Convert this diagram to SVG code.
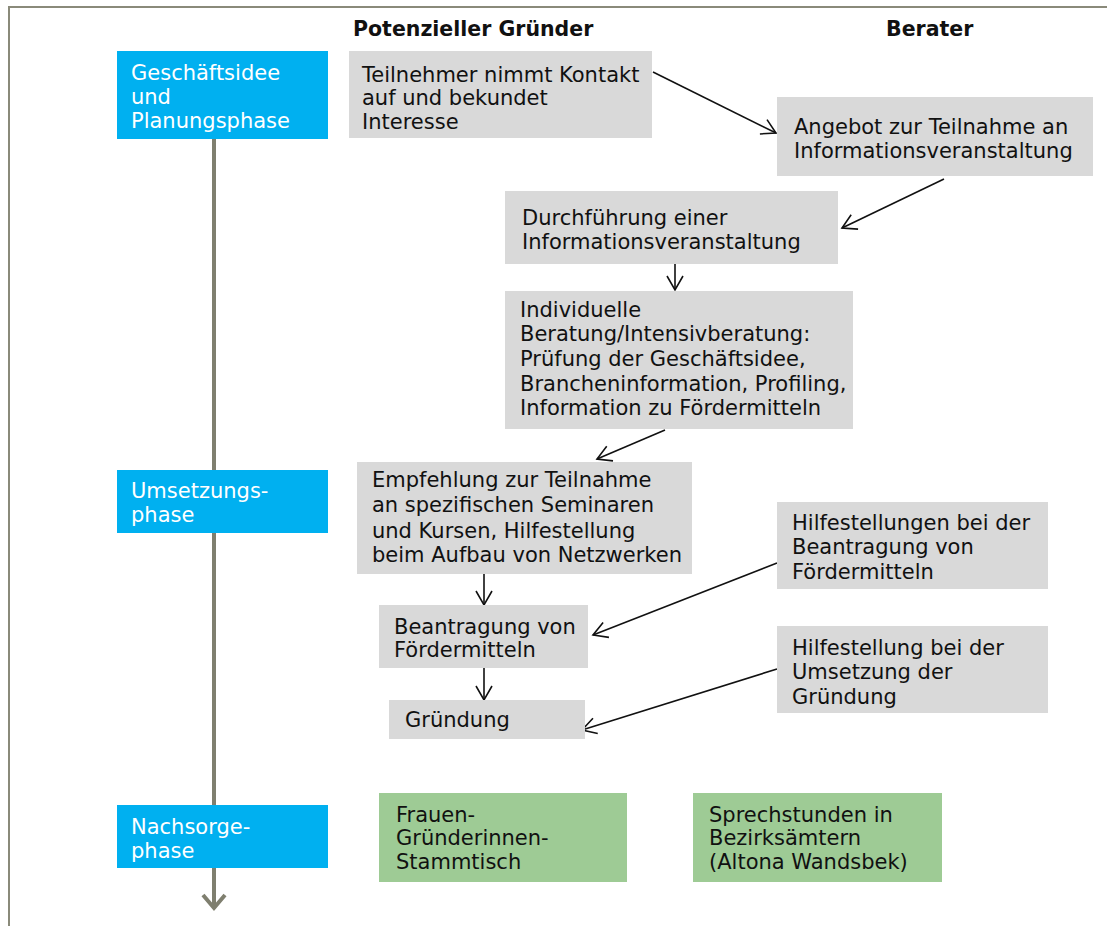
<svg xmlns="http://www.w3.org/2000/svg" width="1107" height="926" viewBox="0 0 1107 926">
<defs>
<style>
.frame{fill:none;stroke:#8a8a7a;stroke-width:2}
.phase{fill:#00b0f0}
.step{fill:#d9d9d9}
.post{fill:#9ecb95}
.pt{font-family:"DejaVu Sans",Verdana,sans-serif;font-size:21px;fill:#ffffff}
.t{font-family:"DejaVu Sans",Verdana,sans-serif;font-size:21px;fill:#111111}
.h{font-family:"DejaVu Sans",Verdana,sans-serif;font-size:20.5px;font-weight:bold;fill:#111111}
.c{fill:none;stroke:#111111;stroke-width:1.6}
.tl{fill:none;stroke:#7f7f6f;stroke-width:4}
</style>
<marker id="ah" markerWidth="18" markerHeight="18" refX="15" refY="9" orient="auto" markerUnits="userSpaceOnUse">
<path d="M1,1 L15,9 L1,17" fill="none" stroke="#111111" stroke-width="1.6"/>
</marker>
</defs>
<rect width="1107" height="926" fill="#ffffff"/>
<path class="frame" d="M9,926 V7 H1107"/>
<g id="headers">
<text class="h" x="353" y="36">Potenzieller Gründer</text>
<text class="h" x="886" y="36">Berater</text>
</g>
<g id="timeline">
<line class="tl" x1="214" y1="139" x2="214" y2="908"/>
<path class="tl" d="M203,895 L214,908 L225,895" stroke-linejoin="miter"/>
</g>
<g id="connectors">
<line class="c" x1="653" y1="72" x2="776" y2="133" marker-end="url(#ah)"/>
<line class="c" x1="944" y1="179" x2="842" y2="228" marker-end="url(#ah)"/>
<line class="c" x1="675" y1="264" x2="675" y2="290" marker-end="url(#ah)"/>
<line class="c" x1="665" y1="430" x2="597" y2="459" marker-end="url(#ah)"/>
<line class="c" x1="484" y1="574" x2="484" y2="605" marker-end="url(#ah)"/>
<line class="c" x1="777" y1="563" x2="593" y2="635" marker-end="url(#ah)"/>
<line class="c" x1="484" y1="668" x2="484" y2="700" marker-end="url(#ah)"/>
<line class="c" x1="777" y1="669" x2="582" y2="730" marker-end="url(#ah)"/>
</g>
<g id="phase1">
<rect class="phase" x="117" y="51" width="211" height="88"/>
<text class="pt" x="131" y="80">Geschäftsidee</text>
<text class="pt" x="131" y="104">und</text>
<text class="pt" x="131" y="128">Planungsphase</text>
</g>
<g id="phase2">
<rect class="phase" x="117" y="470" width="211" height="63"/>
<text class="pt" x="131" y="498">Umsetzungs-</text>
<text class="pt" x="131" y="522">phase</text>
</g>
<g id="phase3">
<rect class="phase" x="117" y="805" width="211" height="63"/>
<text class="pt" x="131" y="834">Nachsorge-</text>
<text class="pt" x="131" y="858">phase</text>
</g>
<g id="kontakt">
<rect class="step" x="349" y="51" width="303" height="87"/>
<text class="t" x="362" y="82">Teilnehmer nimmt Kontakt</text>
<text class="t" x="362" y="105">auf und bekundet</text>
<text class="t" x="362" y="129">Interesse</text>
</g>
<g id="angebot">
<rect class="step" x="777" y="97" width="316" height="79"/>
<text class="t" x="794" y="134">Angebot zur Teilnahme an</text>
<text class="t" x="794" y="158">Informationsveranstaltung</text>
</g>
<g id="durchfuehrung">
<rect class="step" x="505" y="191" width="333" height="73"/>
<text class="t" x="522" y="225">Durchführung einer</text>
<text class="t" x="522" y="249">Informationsveranstaltung</text>
</g>
<g id="beratung">
<rect class="step" x="505" y="291" width="348" height="138"/>
<text class="t" x="520" y="317">Individuelle</text>
<text class="t" x="520" y="341">Beratung/Intensivberatung:</text>
<text class="t" x="520" y="366">Prüfung der Geschäftsidee,</text>
<text class="t" x="520" y="391">Brancheninformation, Profiling,</text>
<text class="t" x="520" y="415">Information zu Fördermitteln</text>
</g>
<g id="empfehlung">
<rect class="step" x="357" y="462" width="335" height="112"/>
<text class="t" x="372" y="487">Empfehlung zur Teilnahme</text>
<text class="t" x="372" y="512">an spezifischen Seminaren</text>
<text class="t" x="372" y="538">und Kursen, Hilfestellung</text>
<text class="t" x="372" y="562">beim Aufbau von Netzwerken</text>
</g>
<g id="hilfe-antrag">
<rect class="step" x="777" y="502" width="271" height="87"/>
<text class="t" x="792" y="530">Hilfestellungen bei der</text>
<text class="t" x="792" y="554">Beantragung von</text>
<text class="t" x="792" y="579">Fördermitteln</text>
</g>
<g id="antrag">
<rect class="step" x="379" y="605" width="209" height="63"/>
<text class="t" x="394" y="634">Beantragung von</text>
<text class="t" x="394" y="657">Fördermitteln</text>
</g>
<g id="hilfe-umsetzung">
<rect class="step" x="777" y="626" width="271" height="87"/>
<text class="t" x="792" y="655">Hilfestellung bei der</text>
<text class="t" x="792" y="679">Umsetzung der</text>
<text class="t" x="792" y="704">Gründung</text>
</g>
<g id="gruendung">
<rect class="step" x="389" y="700" width="196" height="39"/>
<text class="t" x="405" y="727">Gründung</text>
</g>
<g id="stammtisch">
<rect class="post" x="379" y="793" width="248" height="89"/>
<text class="t" x="396" y="822">Frauen-</text>
<text class="t" x="396" y="845">Gründerinnen-</text>
<text class="t" x="396" y="869">Stammtisch</text>
</g>
<g id="sprechstunden">
<rect class="post" x="693" y="793" width="249" height="89"/>
<text class="t" x="709" y="822">Sprechstunden in</text>
<text class="t" x="709" y="845">Bezirksämtern</text>
<text class="t" x="709" y="869">(Altona Wandsbek)</text>
</g>
</svg>
